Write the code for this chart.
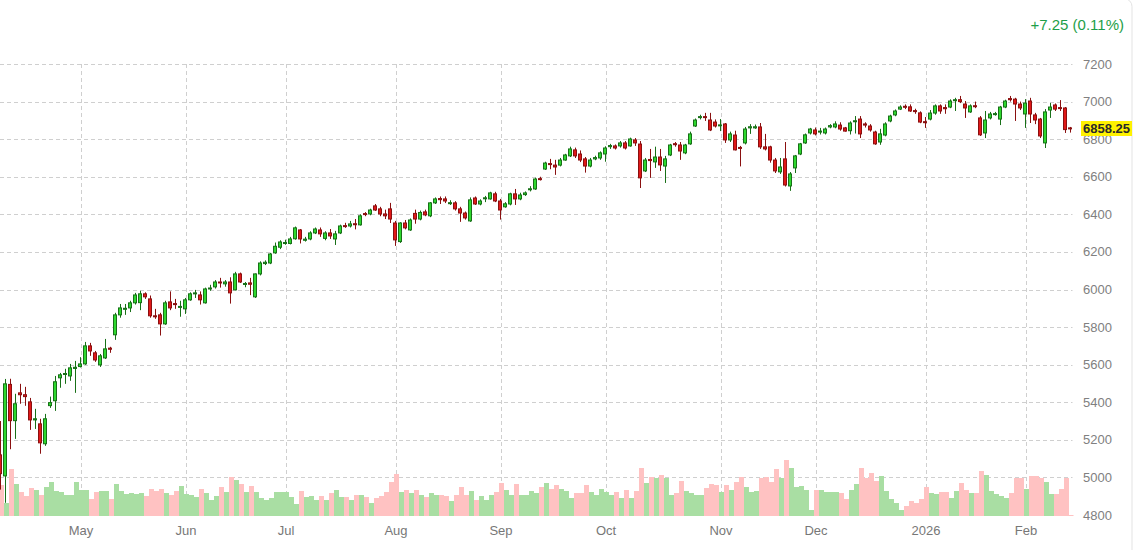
<!DOCTYPE html>
<html lang="en">
	<head>
		<meta charset="UTF-8" />
		<meta name="viewport" content="width=device-width, initial-scale=1.0" />
		<script src="https://d3js.org/d3.v7.min.js"></script>
		<title>Daily candles</title>
		<style>
			body { margin: 0; background: #ffffff; }
			svg { display: block; font-family: "Liberation Sans", Arial, sans-serif; }
		</style>
	</head>
	<body>
		<script>
			var w = 1136;
			var h = 550;

			// trading days shown on the chart
			var dates = [
				"2025-04-08","2025-04-09","2025-04-10","2025-04-11","2025-04-14","2025-04-15","2025-04-16","2025-04-17","2025-04-21","2025-04-22",
				"2025-04-23","2025-04-24","2025-04-25","2025-04-28","2025-04-29","2025-04-30",
				"2025-05-01","2025-05-02","2025-05-05","2025-05-06","2025-05-07","2025-05-08","2025-05-09","2025-05-12","2025-05-13","2025-05-14",
				"2025-05-15","2025-05-16","2025-05-19","2025-05-20","2025-05-21","2025-05-22","2025-05-23","2025-05-27","2025-05-28","2025-05-29","2025-05-30",
				"2025-06-02","2025-06-03","2025-06-04","2025-06-05","2025-06-06","2025-06-09","2025-06-10","2025-06-11","2025-06-12","2025-06-13",
				"2025-06-16","2025-06-17","2025-06-18","2025-06-20","2025-06-23","2025-06-24","2025-06-25","2025-06-26","2025-06-27","2025-06-30",
				"2025-07-01","2025-07-02","2025-07-03","2025-07-07","2025-07-08","2025-07-09","2025-07-10","2025-07-11","2025-07-14","2025-07-15",
				"2025-07-16","2025-07-17","2025-07-18","2025-07-21","2025-07-22","2025-07-23","2025-07-24","2025-07-25","2025-07-28","2025-07-29","2025-07-30","2025-07-31",
				"2025-08-01","2025-08-04","2025-08-05","2025-08-06","2025-08-07","2025-08-08","2025-08-11","2025-08-12","2025-08-13","2025-08-14",
				"2025-08-15","2025-08-18","2025-08-19","2025-08-20","2025-08-21","2025-08-22","2025-08-25","2025-08-26","2025-08-27","2025-08-28","2025-08-29",
				"2025-09-02","2025-09-03","2025-09-04","2025-09-05","2025-09-08","2025-09-09","2025-09-10","2025-09-11","2025-09-12","2025-09-15",
				"2025-09-16","2025-09-17","2025-09-18","2025-09-19","2025-09-22","2025-09-23","2025-09-24","2025-09-25","2025-09-26","2025-09-29","2025-09-30",
				"2025-10-01","2025-10-02","2025-10-03","2025-10-06","2025-10-07","2025-10-08","2025-10-09","2025-10-10","2025-10-13","2025-10-14",
				"2025-10-15","2025-10-16","2025-10-17","2025-10-20","2025-10-21","2025-10-22","2025-10-23","2025-10-24","2025-10-27","2025-10-28",
				"2025-10-29","2025-10-30","2025-10-31",
				"2025-11-03","2025-11-04","2025-11-05","2025-11-06","2025-11-07","2025-11-10","2025-11-11","2025-11-12","2025-11-13","2025-11-14",
				"2025-11-17","2025-11-18","2025-11-19","2025-11-20","2025-11-21","2025-11-24","2025-11-25","2025-11-26","2025-11-28",
				"2025-12-01","2025-12-02","2025-12-03","2025-12-04","2025-12-05","2025-12-08","2025-12-09","2025-12-10","2025-12-11","2025-12-12",
				"2025-12-15","2025-12-16","2025-12-17","2025-12-18","2025-12-19","2025-12-22","2025-12-23","2025-12-24","2025-12-26","2025-12-29",
				"2025-12-30","2025-12-31",
				"2026-01-02","2026-01-05","2026-01-06","2026-01-07","2026-01-08","2026-01-09","2026-01-12","2026-01-13","2026-01-14","2026-01-15",
				"2026-01-16","2026-01-20","2026-01-21","2026-01-22","2026-01-23","2026-01-26","2026-01-27","2026-01-28","2026-01-29","2026-01-30",
				"2026-02-02","2026-02-03","2026-02-04","2026-02-05","2026-02-06","2026-02-09","2026-02-10","2026-02-11","2026-02-12","2026-02-13"
			];

			var opens = [
				5120,5008,5495,5302,5450,5440,5402,5306,5285,5179,
				5382,5408,5530,5548,5540,5580,5590,5604,5700,5663,
				5599,5636,5688,5759,5865,5895,5902,5929,5930,5977,
				5950,5860,5865,5817,5934,5925,5905,5897,5945,5978,
				5971,5929,6005,6014,6040,6030,6040,5998,6083,6028,
				6035,5961,6083,6138,6141,6195,6225,6245,6245,6270,
				6317,6262,6269,6301,6317,6272,6301,6269,6301,6340,
				6338,6350,6344,6404,6402,6445,6429,6402,6429,6354,
				6255,6354,6317,6405,6375,6413,6392,6461,6484,6482,
				6458,6461,6429,6407,6365,6487,6455,6484,6482,6509,
				6471,6440,6455,6509,6482,6505,6532,6535,6590,6641,
				6670,6662,6662,6689,6711,6743,6721,6695,6657,6695,
				6700,6721,6760,6764,6764,6780,6764,6796,6774,6631,
				6692,6679,6705,6657,6716,6776,6769,6727,6775,6870,
				6915,6920,6902,6891,6872,6881,6796,6822,6756,6780,
				6860,6860,6865,6759,6759,6689,6626,6695,6551,6647,
				6721,6780,6833,6849,6838,6833,6865,6865,6875,6860,
				6845,6895,6907,6881,6870,6838,6785,6822,6897,6929,
				6960,6975,6972,6952,6940,6893,6907,6939,6977,6968,
				6971,7005,7010,6987,6945,6978,6913,6833,6913,6932,
				6907,6971,7016,7013,6987,6934,7003,6929,6907,6780,
				6955,6982,6968,6966,6860
			];

			var highs = [
				5300,5524,5525,5445,5498,5482,5423,5365,5312,5338,
				5430,5540,5556,5578,5604,5620,5640,5721,5716,5673,
				5657,5737,5695,5876,5923,5923,5940,5982,5993,5985,
				5968,5897,5876,5940,5990,5950,5940,5955,5985,5998,
				5990,6010,6025,6050,6062,6050,6065,6094,6090,6040,
				6062,6085,6150,6155,6195,6250,6262,6265,6280,6335,
				6322,6280,6310,6330,6330,6310,6322,6312,6345,6355,
				6365,6375,6400,6412,6430,6455,6440,6425,6461,6365,
				6358,6370,6378,6425,6420,6425,6465,6490,6495,6495,
				6475,6470,6440,6415,6490,6495,6480,6498,6520,6520,
				6482,6465,6515,6535,6515,6522,6550,6595,6600,6680,
				6695,6690,6700,6722,6760,6755,6740,6705,6700,6712,
				6735,6762,6775,6772,6790,6790,6808,6806,6790,6700,
				6748,6760,6748,6711,6775,6785,6785,6775,6840,6910,
				6930,6940,6940,6905,6907,6886,6840,6845,6764,6865,
				6880,6878,6886,6828,6765,6700,6700,6785,6625,6716,
				6780,6830,6860,6862,6860,6862,6880,6895,6890,6865,
				6895,6923,6923,6890,6880,6845,6855,6890,6930,6958,
				6980,6985,6985,6962,6948,6918,6955,6985,6985,6985,
				7012,7020,7030,7003,6985,7000,6923,6950,6945,6945,
				6977,7010,7030,7020,7000,7013,7020,6940,6913,6960,
				6993,6990,7008,6971,6865
			];

			var lows = [
				4935,4865,5150,5205,5392,5381,5253,5258,5126,5168,
				5370,5354,5477,5498,5514,5450,5585,5599,5647,5615,
				5588,5630,5663,5732,5850,5865,5880,5920,5890,5950,
				5850,5844,5755,5812,5890,5897,5855,5870,5940,5955,
				5920,5925,5993,6005,6010,6015,5925,5995,6035,6012,
				5970,5955,6075,6130,6135,6190,6215,6238,6240,6265,
				6245,6255,6262,6295,6280,6262,6269,6237,6295,6328,
				6330,6320,6340,6390,6395,6418,6390,6375,6354,6232,
				6248,6320,6312,6350,6368,6390,6385,6455,6455,6460,
				6450,6420,6360,6372,6360,6450,6448,6465,6478,6465,
				6372,6435,6448,6450,6475,6498,6522,6530,6580,6636,
				6640,6610,6655,6685,6705,6700,6678,6622,6650,6688,
				6690,6680,6748,6745,6755,6745,6760,6764,6540,6625,
				6594,6647,6631,6567,6710,6760,6690,6720,6770,6865,
				6905,6897,6843,6862,6843,6780,6785,6740,6655,6772,
				6828,6855,6748,6740,6675,6620,6615,6548,6525,6620,
				6715,6775,6825,6820,6825,6825,6858,6858,6845,6840,
				6825,6830,6806,6862,6840,6770,6770,6815,6890,6922,
				6955,6960,6945,6935,6885,6860,6900,6930,6935,6935,
				6965,6950,6992,6913,6940,6965,6817,6806,6905,6925,
				6875,6965,7000,6897,6955,6860,6886,6880,6806,6753,
				6913,6950,6950,6833,6835
			];

			var closes = [
				5020,5498,5302,5392,5440,5430,5306,5312,5184,5312,
				5398,5509,5546,5553,5583,5586,5604,5700,5673,5625,
				5647,5684,5682,5865,5902,5900,5929,5971,5977,5961,
				5860,5855,5817,5929,5902,5920,5910,5945,5977,5982,
				5945,6003,6008,6040,6035,6040,5982,6083,6040,6032,
				6028,6083,6141,6145,6189,6230,6253,6250,6269,6328,
				6269,6268,6301,6322,6296,6301,6285,6296,6338,6336,
				6349,6348,6392,6400,6423,6423,6402,6392,6375,6264,
				6354,6328,6370,6375,6410,6397,6461,6482,6478,6471,
				6462,6429,6407,6381,6477,6455,6471,6488,6514,6471,
				6423,6456,6509,6482,6503,6514,6536,6588,6587,6673,
				6666,6652,6689,6716,6748,6711,6689,6657,6689,6702,
				6727,6753,6766,6753,6780,6753,6801,6780,6594,6689,
				6686,6705,6663,6695,6769,6772,6737,6769,6828,6902,
				6920,6916,6849,6870,6876,6796,6828,6743,6752,6854,
				6866,6866,6759,6748,6689,6631,6652,6556,6615,6711,
				6775,6823,6854,6828,6843,6854,6872,6881,6854,6843,
				6886,6898,6828,6875,6849,6775,6828,6881,6923,6950,
				6971,6970,6950,6948,6891,6888,6939,6977,6950,6962,
				7003,7010,7000,6966,6977,6975,6823,6902,6934,6936,
				6971,7003,7010,6987,6966,6992,6934,6902,6817,6945,
				6971,6960,6964,6851,6858.25
			];

			// volume, thousands of contracts
			var volumes = [
				1240,520,1880,1280,960,800,1120,1040,840,1160,
				1360,1020,960,840,840,1360,1040,1040,700,960,
				1020,1020,700,1280,1020,880,920,880,920,790,
				1100,1020,1100,920,860,1020,1220,880,830,770,
				1100,920,640,800,1160,960,1560,1440,1280,960,
				1200,960,740,640,740,960,960,960,760,500,
				1020,760,820,660,820,660,920,1060,760,760,
				640,830,860,760,540,720,820,960,1360,1680,
				960,1040,920,1060,860,760,920,830,860,820,
				600,860,1160,860,1020,640,820,640,860,960,
				1340,1060,860,1280,860,860,1020,910,1150,1330,
				1090,1260,1090,1010,740,910,910,1260,950,840,
				1090,950,840,950,740,1050,740,1010,1920,1330,
				1580,1540,1630,1540,840,910,1420,1010,910,840,
				840,1120,1280,1260,950,1260,1050,1370,1580,1150,
				980,1010,1540,1560,1370,1880,1510,2240,1920,1160,
				1220,1050,260,1050,1050,950,950,950,910,700,
				1050,1300,1920,1540,1720,1400,1600,1010,680,540,
				240,420,590,540,680,1160,910,870,950,950,
				740,1010,1330,1050,910,910,1790,1630,1000,870,
				790,740,920,1540,1540,1100,1590,1590,1540,1350,
				900,900,1100,1520,30
			];

			var priceTicks = [4800, 5000, 5200, 5400, 5600, 5800, 6000, 6200, 6400, 6600, 6800, 7000, 7200];
			var monthKeys = ["2025-05", "2025-06", "2025-07", "2025-08", "2025-09", "2025-10", "2025-11", "2025-12", "2026-01", "2026-02"];
			var monthLabels = ["May", "Jun", "Jul", "Aug", "Sep", "Oct", "Nov", "Dec", "2026", "Feb"];

			var candles = dates.map(function (d, i) {
				return { date: d, o: opens[i], h: highs[i], l: lows[i], c: closes[i], v: volumes[i] };
			});

			var plotRight = 1073.5;
			var xScale = d3
				.scaleBand()
				.domain(dates)
				.range([-1.5, plotRight])
				.padding(0);

			var yScale = d3
				.scaleLinear()
				.domain([4800, 7200])
				.range([515, 64]);

			var vScale = d3
				.scaleLinear()
				.domain([0, 2500])
				.range([516, 453.5]);

			function cx(d) {
				return Math.round(xScale(d.date) + xScale.bandwidth() / 2);
			}

			var svg = d3
				.select("body")
				.append("svg")
				.attr("width", w)
				.attr("height", h);

			svg.append("defs")
				.append("clipPath")
				.attr("id", "plot")
				.append("rect")
				.attr("x", 0)
				.attr("y", 0)
				.attr("width", plotRight)
				.attr("height", 520);

			// rounded card border, top edge sits just above the view
			svg.append("rect")
				.attr("x", -10)
				.attr("y", -1.5)
				.attr("width", 1142)
				.attr("height", 600)
				.attr("rx", 8)
				.attr("fill", "none")
				.attr("stroke", "#e3e3e3");

			// horizontal grid
			svg.selectAll("line.hgrid")
				.data(priceTicks)
				.enter()
				.append("line")
				.attr("class", "hgrid")
				.attr("x1", 0)
				.attr("x2", plotRight - 1)
				.attr("y1", function (d) { return Math.round(yScale(d)) + 0.5; })
				.attr("y2", function (d) { return Math.round(yScale(d)) + 0.5; })
				.attr("stroke", "#cfcfcf")
				.attr("stroke-dasharray", "4,3");

			// month positions = first trading day of each month
			var monthTicks = monthKeys.map(function (k, i) {
				var first = candles.find(function (d) { return d.date.slice(0, 7) === k; });
				return { label: monthLabels[i], x: cx(first) };
			});

			svg.selectAll("line.vgrid")
				.data(monthTicks)
				.enter()
				.append("line")
				.attr("class", "vgrid")
				.attr("x1", function (d) { return d.x + 0.5; })
				.attr("x2", function (d) { return d.x + 0.5; })
				.attr("y1", yScale(7200))
				.attr("y2", 517)
				.attr("stroke", "#cfcfcf")
				.attr("stroke-dasharray", "4,3");

			var plot = svg.append("g").attr("clip-path", "url(#plot)");

			// volume
			plot.selectAll("rect.vol")
				.data(candles)
				.enter()
				.append("rect")
				.attr("class", "vol")
				.attr("x", function (d) { return xScale(d.date); })
				.attr("width", xScale.bandwidth())
				.attr("y", function (d) { return vScale(d.v); })
				.attr("height", function (d) { return vScale(0) - vScale(d.v); })
				.attr("fill", function (d) { return d.c >= d.o ? "#a9dea3" : "#ffc2c2"; })
				.attr("shape-rendering", "crispEdges");

			// wicks
			plot.selectAll("line.wick")
				.data(candles)
				.enter()
				.append("line")
				.attr("class", "wick")
				.attr("x1", function (d) { return cx(d) - 0.5; })
				.attr("x2", function (d) { return cx(d) - 0.5; })
				.attr("y1", function (d) { return yScale(d.h); })
				.attr("y2", function (d) { return yScale(d.l); })
				.attr("stroke", function (d) { return d.c >= d.o ? "#187018" : "#8a1010"; })
				.attr("stroke-width", 1);

			// bodies
			plot.selectAll("rect.body")
				.data(candles)
				.enter()
				.append("rect")
				.attr("class", "body")
				.attr("x", function (d) { return cx(d) - 2.5; })
				.attr("width", 3)
				.attr("y", function (d) { return yScale(Math.max(d.o, d.c)); })
				.attr("height", function (d) {
					return Math.max(1, Math.abs(yScale(d.o) - yScale(d.c)));
				})
				.attr("fill", function (d) { return d.c >= d.o ? "#2ed82e" : "#e01818"; })
				.attr("stroke", function (d) { return d.c >= d.o ? "#187018" : "#8a1010"; })
				.attr("stroke-width", 1);

			// price axis labels
			svg.selectAll("text.ptick")
				.data(priceTicks)
				.enter()
				.append("text")
				.attr("class", "ptick")
				.text(function (d) { return d; })
				.attr("x", 1083)
				.attr("y", function (d) { return yScale(d) + 4.5; })
				.attr("font-size", "13px")
				.attr("fill", "#808080");

			// month labels
			svg.selectAll("text.mtick")
				.data(monthTicks)
				.enter()
				.append("text")
				.attr("class", "mtick")
				.text(function (d) { return d.label; })
				.attr("x", function (d) { return d.x; })
				.attr("y", 535)
				.attr("text-anchor", "middle")
				.attr("font-size", "13px")
				.attr("fill", "#777777");

			// last price marker, drawn over the 6800 label as in the source
			var last = candles[candles.length - 1];
			var prev = candles[candles.length - 2];
			var lastY = yScale(last.c);

			svg.append("rect")
				.attr("x", 1081)
				.attr("y", Math.round(lastY) - 7)
				.attr("width", 51)
				.attr("height", 15)
				.attr("fill", "#fff200");

			svg.append("text")
				.text(last.c.toFixed(2))
				.attr("x", 1083)
				.attr("y", Math.round(lastY) + 5)
				.attr("font-size", "13px")
				.attr("font-weight", "bold")
				.attr("fill", "#2a2a2a");

			// change versus previous close
			var change = last.c - prev.c;
			var pct = (change / prev.c) * 100;
			svg.append("text")
				.text((change >= 0 ? "+" : "") + change.toFixed(2) + " (" + pct.toFixed(2) + "%)")
				.attr("x", 1124)
				.attr("y", 30)
				.attr("text-anchor", "end")
				.attr("font-size", "15px")
				.attr("fill", change >= 0 ? "#1e9e48" : "#d32f2f");
		</script>
	</body>
</html>
